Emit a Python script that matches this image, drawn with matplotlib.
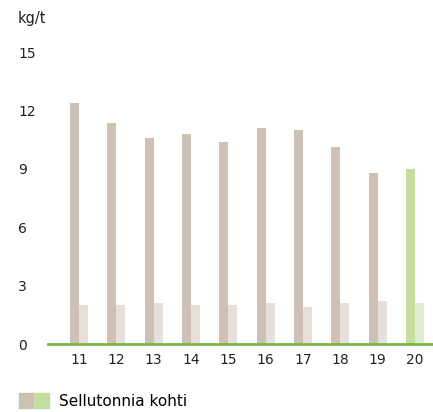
import numpy as np
import matplotlib
matplotlib.use('Agg')
import matplotlib.pyplot as plt
from matplotlib.patches import Patch
from matplotlib.legend_handler import HandlerTuple

years = ['11', '12', '13', '14', '15', '16', '17', '18', '19', '20']
main_vals = [12.4, 11.35, 10.6, 10.8, 10.4, 11.1, 11.0, 10.1, 8.8, 9.0]
second_vals = [2.0, 2.0, 2.1, 2.0, 2.0, 2.1, 1.9, 2.1, 2.2, 2.1]
yticks = [0, 3, 6, 9, 12, 15]

dark = '#cdc0b4'
light = '#e7e0da'
green_dark = '#c4dea0'
green_light = '#e0eed0'
axis_green = '#7ab648'

plt.rcParams['font.family'] = ['DejaVu Sans']

fig = plt.figure(figsize=(4.33, 4.12), dpi=100)
ax = fig.add_axes([48 / 433, 1 - 344 / 412, 1 - 48 / 433, (344 - 52) / 412])

x = np.arange(len(years))
w = 0.24
c1 = [dark] * (len(years) - 1) + [green_dark]
c2 = [light] * (len(years) - 1) + [green_light]
ax.bar(x - w / 2, main_vals, w, color=c1, zorder=2)
ax.bar(x + w / 2, second_vals, w, color=c2, zorder=2)

ax.set_xlim(-0.83, 9.48)
ax.set_ylim(0, 15)
ax.set_yticks(yticks)
ax.set_yticklabels([str(t) for t in yticks], fontsize=10, color='#222222', ha='left')
ax.set_xticks(x)
ax.set_xticklabels(years, fontsize=10, color='#222222')
ax.tick_params(axis='y', length=0, pad=21.5)
ax.tick_params(axis='x', length=0, pad=6.5)
for s in ['top', 'right', 'left']:
    ax.spines[s].set_visible(False)
ax.spines['bottom'].set_color(axis_green)
ax.spines['bottom'].set_linewidth(2)
ax.spines['bottom'].set_zorder(3)

fig.text(18 / 433, 1 - 19 / 412, 'kg/t', fontsize=10.5, color='#222222', va='center', ha='left')

handles = [(Patch(color=dark), Patch(color=green_dark))]
fig.legend(handles, ['Sellutonnia kohti'], handler_map={tuple: HandlerTuple(ndivide=None, pad=0)},
           loc='center left', bbox_to_anchor=(5 / 433, 1 - 401 / 412), frameon=False,
           fontsize=11, handlelength=2.0, handleheight=1.05, handletextpad=0.65)

fig.savefig('out.png', dpi=100)
